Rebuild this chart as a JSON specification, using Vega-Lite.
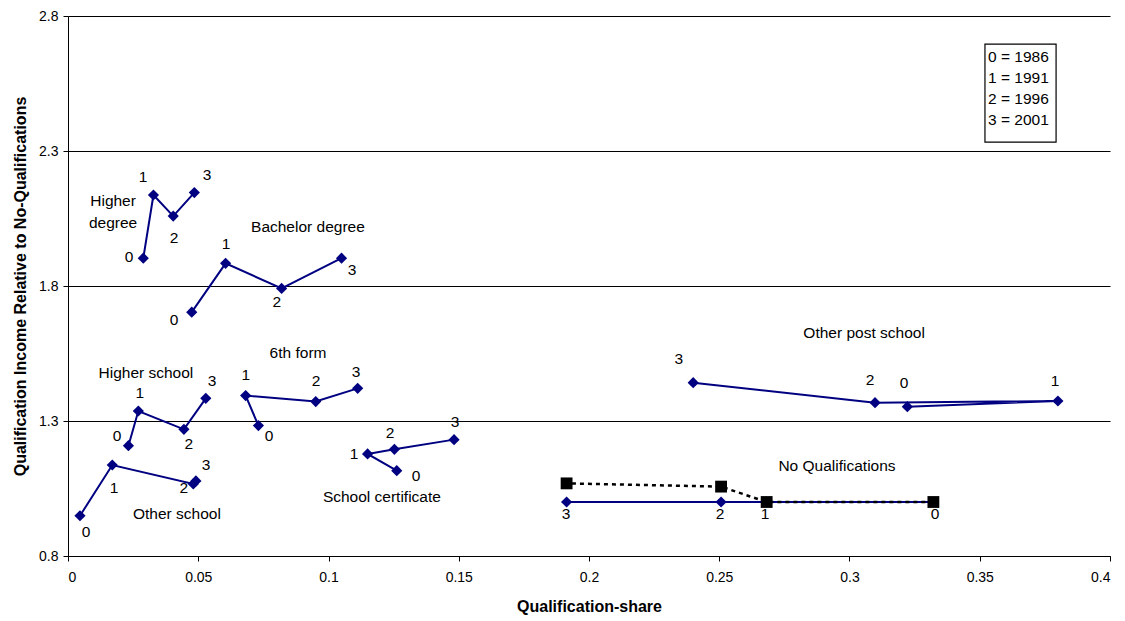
{
  "$schema": "https://vega.github.io/schema/vega-lite/v6.json",
  "width": 1042,
  "height": 540,
  "autosize": {"type": "none"},
  "padding": {"left": 68, "top": 16, "right": 15, "bottom": 65},
  "background": "white",
  "config": {
    "view": {"stroke": null},
    "font": "Liberation Sans",
    "axis": {"labelFont": "Liberation Sans", "titleFont": "Liberation Sans", "labelColor": "black", "titleColor": "black", "domainColor": "black", "tickColor": "black", "labelFontSize": 14, "titleFontSize": 16, "titleFontWeight": "bold"}
  },
  "datasets": {
    "pts": [
      {"series": "Higher degree", "t": 0, "x": 0.0289, "y": 1.903},
      {"series": "Higher degree", "t": 1, "x": 0.0328, "y": 2.137},
      {"series": "Higher degree", "t": 2, "x": 0.0404, "y": 2.059},
      {"series": "Higher degree", "t": 3, "x": 0.0485, "y": 2.146},
      {"series": "Bachelor degree", "t": 0, "x": 0.0475, "y": 1.703},
      {"series": "Bachelor degree", "t": 1, "x": 0.0605, "y": 1.884},
      {"series": "Bachelor degree", "t": 2, "x": 0.082, "y": 1.791},
      {"series": "Bachelor degree", "t": 3, "x": 0.105, "y": 1.903},
      {"series": "Higher school", "t": 0, "x": 0.0232, "y": 1.2085},
      {"series": "Higher school", "t": 1, "x": 0.027, "y": 1.337},
      {"series": "Higher school", "t": 2, "x": 0.0445, "y": 1.269},
      {"series": "Higher school", "t": 3, "x": 0.0529, "y": 1.384},
      {"series": "6th form", "t": 0, "x": 0.0731, "y": 1.283},
      {"series": "6th form", "t": 1, "x": 0.0682, "y": 1.394},
      {"series": "6th form", "t": 2, "x": 0.0951, "y": 1.372},
      {"series": "6th form", "t": 3, "x": 0.1112, "y": 1.421},
      {"series": "School certificate", "t": 0, "x": 0.1262, "y": 1.116},
      {"series": "School certificate", "t": 1, "x": 0.1150, "y": 1.178},
      {"series": "School certificate", "t": 2, "x": 0.1253, "y": 1.195},
      {"series": "School certificate", "t": 3, "x": 0.1482, "y": 1.231},
      {"series": "Other school", "t": 0, "x": 0.0046, "y": 0.949},
      {"series": "Other school", "t": 1, "x": 0.017, "y": 1.137},
      {"series": "Other school", "t": 2, "x": 0.0481, "y": 1.067},
      {"series": "Other school", "t": 3, "x": 0.0491, "y": 1.078},
      {"series": "Other post school", "t": 0, "x": 0.3222, "y": 1.353},
      {"series": "Other post school", "t": 1, "x": 0.380, "y": 1.374},
      {"series": "Other post school", "t": 2, "x": 0.3098, "y": 1.368},
      {"series": "Other post school", "t": 3, "x": 0.240, "y": 1.442},
      {"series": "No Qualifications", "t": 0, "x": 0.3322, "y": 1.0},
      {"series": "No Qualifications", "t": 1, "x": 0.2682, "y": 1.0},
      {"series": "No Qualifications", "t": 2, "x": 0.2507, "y": 1.0},
      {"series": "No Qualifications", "t": 3, "x": 0.1914, "y": 1.0}
    ],
    "nq2": [
      {"t": 0, "x": 0.3322, "y": 1.0},
      {"t": 1, "x": 0.2682, "y": 1.0},
      {"t": 2, "x": 0.2507, "y": 1.057},
      {"t": 3, "x": 0.1914, "y": 1.069}
    ],
    "labels": [
      {"label": "0", "x": 0.0234, "y": 1.907},
      {"label": "1", "x": 0.0288, "y": 2.204},
      {"label": "2", "x": 0.0407, "y": 1.978},
      {"label": "3", "x": 0.0534, "y": 2.211},
      {"label": "Higher\ndegree", "x": 0.0173, "y": 2.115},
      {"label": "0", "x": 0.0407, "y": 1.674},
      {"label": "1", "x": 0.0607, "y": 1.956},
      {"label": "2", "x": 0.0802, "y": 1.741},
      {"label": "3", "x": 0.109, "y": 1.859},
      {"label": "Bachelor degree", "x": 0.0921, "y": 2.0185},
      {"label": "Higher school", "x": 0.0299, "y": 1.478},
      {"label": "0", "x": 0.0188, "y": 1.244},
      {"label": "1", "x": 0.0276, "y": 1.404},
      {"label": "2", "x": 0.0464, "y": 1.215},
      {"label": "3", "x": 0.0553, "y": 1.448},
      {"label": "6th form", "x": 0.0883, "y": 1.552},
      {"label": "1", "x": 0.0683, "y": 1.470},
      {"label": "0", "x": 0.0772, "y": 1.244},
      {"label": "2", "x": 0.0952, "y": 1.448},
      {"label": "3", "x": 0.1106, "y": 1.481},
      {"label": "1", "x": 0.1098, "y": 1.178},
      {"label": "2", "x": 0.1236, "y": 1.2556},
      {"label": "3", "x": 0.1486, "y": 1.296},
      {"label": "0", "x": 0.1336, "y": 1.096},
      {"label": "School certificate", "x": 0.1205, "y": 1.0185},
      {"label": "0", "x": 0.0069, "y": 0.889},
      {"label": "1", "x": 0.0177, "y": 1.052},
      {"label": "2", "x": 0.0445, "y": 1.052},
      {"label": "3", "x": 0.053, "y": 1.137},
      {"label": "Other school", "x": 0.0418, "y": 0.9556},
      {"label": "Other post school", "x": 0.3056, "y": 1.626},
      {"label": "3", "x": 0.2345, "y": 1.5296},
      {"label": "2", "x": 0.3079, "y": 1.452},
      {"label": "0", "x": 0.3209, "y": 1.4407},
      {"label": "1", "x": 0.3789, "y": 1.448},
      {"label": "No Qualifications", "x": 0.2952, "y": 1.133},
      {"label": "3", "x": 0.1912, "y": 0.9556},
      {"label": "2", "x": 0.2503, "y": 0.9556},
      {"label": "1", "x": 0.2676, "y": 0.9556},
      {"label": "0", "x": 0.3328, "y": 0.9556}
    ],
    "box": [{"x": 0.352, "x2": 0.3793, "y": 2.696, "y2": 2.333}],
    "key": [
      {"label": "0 = 1986", "x": 0.3532, "y": 2.648},
      {"label": "1 = 1991", "x": 0.3532, "y": 2.570},
      {"label": "2 = 1996", "x": 0.3532, "y": 2.493},
      {"label": "3 = 2001", "x": 0.3532, "y": 2.415}
    ]
  },
  "layer": [
    {
      "data": {"name": "pts"},
      "mark": {"type": "line", "color": "#000080", "strokeWidth": 2},
      "encoding": {
        "x": {"field": "x", "type": "quantitative", "scale": {"domain": [0, 0.4], "nice": false}, "axis": {"title": "Qualification-share", "values": [0, 0.05, 0.1, 0.15, 0.2, 0.25, 0.3, 0.35, 0.4], "format": "~g", "grid": false, "tickSize": 5, "labelPadding": 9, "titlePadding": 14}},
        "y": {"field": "y", "type": "quantitative", "scale": {"domain": [0.8, 2.8], "nice": false, "zero": false}, "axis": {"title": "Qualification Income Relative to No-Qualifications", "values": [0.8, 1.3, 1.8, 2.3, 2.8], "format": ".1f", "grid": true, "gridColor": "black", "gridOpacity": 1, "gridWidth": 1, "tickSize": 5, "labelPadding": 5, "titlePadding": 10}},
        "detail": {"field": "series"},
        "order": {"field": "t", "type": "quantitative"}
      }
    },
    {
      "data": {"name": "nq2"},
      "mark": {"type": "line", "color": "black", "strokeWidth": 2.5, "strokeDash": [4, 4]},
      "encoding": {
        "x": {"field": "x", "type": "quantitative"},
        "y": {"field": "y", "type": "quantitative"},
        "order": {"field": "t", "type": "quantitative"}
      }
    },
    {
      "data": {"name": "pts"},
      "mark": {"type": "point", "shape": "diamond", "filled": true, "color": "#000080", "opacity": 1, "size": 125},
      "encoding": {
        "x": {"field": "x", "type": "quantitative"},
        "y": {"field": "y", "type": "quantitative"}
      }
    },
    {
      "data": {"name": "nq2"},
      "mark": {"type": "point", "shape": "square", "filled": true, "color": "black", "opacity": 1, "size": 140},
      "encoding": {
        "x": {"field": "x", "type": "quantitative"},
        "y": {"field": "y", "type": "quantitative"}
      }
    },
    {
      "data": {"name": "labels"},
      "mark": {"type": "text", "fontSize": 15.5, "color": "black", "align": "center", "baseline": "middle", "lineBreak": "\n", "lineHeight": 22},
      "encoding": {
        "x": {"field": "x", "type": "quantitative"},
        "y": {"field": "y", "type": "quantitative"},
        "text": {"field": "label"}
      }
    },
    {
      "data": {"name": "box"},
      "mark": {"type": "rect", "fill": "white", "stroke": "black", "strokeWidth": 1.2},
      "encoding": {
        "x": {"field": "x", "type": "quantitative"},
        "x2": {"field": "x2"},
        "y": {"field": "y", "type": "quantitative"},
        "y2": {"field": "y2"}
      }
    },
    {
      "data": {"name": "key"},
      "mark": {"type": "text", "fontSize": 15.5, "color": "black", "align": "left", "baseline": "middle"},
      "encoding": {
        "x": {"field": "x", "type": "quantitative"},
        "y": {"field": "y", "type": "quantitative"},
        "text": {"field": "label"}
      }
    }
  ]
}
